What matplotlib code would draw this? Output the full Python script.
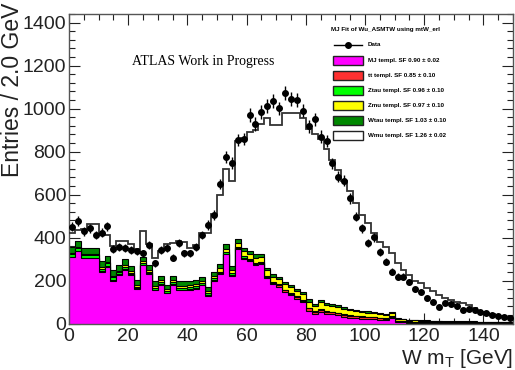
import numpy as np
import matplotlib.pyplot as plt
from matplotlib.patches import Rectangle
from matplotlib.lines import Line2D
from matplotlib.ticker import MultipleLocator

plt.rcParams['font.family'] = ['Liberation Sans', 'DejaVu Sans']
plt.rcParams['mathtext.fontset'] = 'custom'
plt.rcParams['mathtext.rm'] = 'Liberation Sans'

# 75 bins of 2 GeV from 0 to 150
edges = np.arange(0, 152, 2)

data = [450, 477, 430, 443, 412, 422, 453, 345, 357, 350,
        342, 335, 326, 365, 280, 342, 350, 306, 373, 326,
        326, 354, 412, 458, 505, 649, 776, 748, 853, 858,
        970, 928, 985, 1012, 1037, 1001, 1074, 1043, 1040, 990,
        918, 950, 869, 850, 745, 683, 664, 582, 497, 443,
        373, 401, 334, 288, 241, 218, 218, 194, 159, 148,
        117, 101, 78, 94, 91, 81, 63, 66, 63, 55,
        47, 40, 35, 29, 25]

# top of the full stack (Wmu on top)
total = [420, 435, 440, 465, 465, 415, 410, 360, 385, 385,
         370, 345, 430, 370, 305, 335, 370, 375, 385, 380,
         350, 365, 420, 420, 510, 598, 718, 664, 850, 862,
         890, 900, 930, 958, 922, 922, 980, 980, 978, 955,
         905, 880, 860, 810, 760, 715, 665, 615, 560, 505,
         466, 420, 380, 357, 327, 280, 249, 226, 200, 188,
         164, 150, 133, 117, 109, 100, 94, 86, 71, 55,
         47, 45, 35, 32, 30]

mj = [308, 335, 303, 303, 303, 240, 265, 200, 225, 250,
      225, 160, 270, 230, 155, 180, 140, 180, 155, 155,
      158, 162, 177, 130, 200, 230, 322, 222, 347, 302,
      290, 273, 275, 212, 182, 170, 146, 131, 115, 98,
      60, 45, 55, 45, 42, 38, 32, 27, 25, 23,
      21, 20, 17, 16, 25, 6, 5, 4, 3, 3,
      3, 2, 2, 2, 2, 2, 2, 2, 2, 1,
      1, 1, 1, 1, 1]

tt = [3] * 28 + [5, 5, 5, 5, 6, 6, 7, 7, 8, 8, 8, 9,
                 10, 9, 10, 10, 10, 10, 9, 9, 9, 8, 8, 8, 7, 7, 7,
                 6, 5, 5, 4, 4, 4, 4, 4, 3, 3, 3, 3, 3, 3, 2, 2, 2, 2, 2, 2]

ztau = [12] * 10 + [8] * 18 + [6, 6, 5, 5, 5, 5, 5, 5, 4, 4, 4, 4,
                               4, 3, 4, 3, 3, 3, 3, 3, 2, 2, 2, 2, 2, 2, 2] + [1] * 20

zmu = [6] * 10 + [10] * 15 + [15] * 4 + [22, 22, 23, 24, 24, 24, 25, 25, 25, 25, 25,
                                          28, 26, 30, 28, 28, 27, 25, 23, 22, 21, 20, 19, 17, 16, 17,
                                          10, 9, 6, 6, 5, 4, 4, 3, 3, 3, 3, 3, 3, 3, 3, 2, 2, 2, 2, 2]

wtau = [28] * 10 + [20] * 19 + [17, 16, 16, 15, 13, 12, 11, 11, 10, 10, 9,
                                10, 9, 9, 9, 9, 8, 7, 6, 6, 6, 6, 5, 5, 4, 4,
                                3, 3, 2, 2, 2, 2, 2, 2, 1, 1, 1, 1, 1, 1, 1, 1, 1, 1, 1, 1]

names = ["MJ templ. SF 0.90 \u00b1 0.02", "tt templ. SF 0.85 \u00b1 0.10",
         "Ztau templ. SF 0.96 \u00b1 0.10", "Zmu templ. SF 0.97 \u00b1 0.10",
         "Wtau templ. SF 1.03 \u00b1 0.10", "Wmu templ. SF 1.26 \u00b1 0.02"]
colors = ["#ff00ff", "#ff3030", "#00ff00", "#ffff00", "#008800", "white"]

W, H = 515, 370
fig = plt.figure(figsize=(W / 100, H / 100), dpi=100)
ax = fig.add_axes([69 / W, 1 - 323.5 / H, (513 - 69) / W, (323.5 - 14) / H])

# stack
layers = np.array([mj, tt, ztau, zmu, wtau], dtype=float)
tops = np.cumsum(layers, axis=0)
ax.stairs(total, edges, fill=True, color="white", zorder=1)
for top, c in reversed(list(zip(tops, colors[:5]))):
    ax.stairs(top, edges, baseline=0, fill=True, color=c, zorder=2)
    ax.stairs(top, edges, baseline=None, color="black", lw=0.8, zorder=2)
ax.stairs(total, edges, baseline=None, color="#333333", lw=1.3, zorder=3)

# data
centers = 0.5 * (edges[1:] + edges[:-1])
d = np.array(data, dtype=float)
ax.errorbar(centers, d, yerr=np.sqrt(d), fmt="o", color="black", ms=4,
            elinewidth=1, capsize=0, zorder=4)

ax.set_xlim(0, 150)
ax.set_ylim(0, 1440)
ax.xaxis.set_major_locator(MultipleLocator(20))
ax.xaxis.set_minor_locator(MultipleLocator(5))
ax.yaxis.set_major_locator(MultipleLocator(200))
ax.yaxis.set_minor_locator(MultipleLocator(40))
ax.tick_params(which="both", direction="in", top=True, right=True,
               labelsize=14, colors="#222222")
ax.tick_params(which="major", length=8, width=0.8)
ax.tick_params(which="minor", length=4, width=0.8)
ax.tick_params(axis="y", pad=2)
ax.tick_params(axis="x", pad=3)
for s in ax.spines.values():
    s.set_color("#555555")
    s.set_linewidth(1.0)

fig.text(513 / W, 1 - 359 / H, r"W m$_\mathrm{T}$ [GeV]", ha="right", va="center",
         fontsize=15, color="#222222")
fig.text(13 / W, 1 - 177 / H, "Entries / 2.0 GeV", rotation=90, ha="center",
         va="bottom", fontsize=16.5, color="#222222")
fig.text(132 / W, 1 - 61 / H, "ATLAS Work in Progress", family="Liberation Serif",
         fontsize=10, va="center")

# legend drawn by hand in pixel positions
def fx(x):
    return x / W


def fy(y):
    return 1 - y / H


fs = 4.5
fig.text(fx(331), fy(30), "MJ Fit of Wu_ASMTW using mtW_erl", fontsize=fs,
         weight="bold", va="center")
yd = 44.5
fig.add_artist(Line2D([fx(334), fx(362)], [fy(yd), fy(yd)], color="black", lw=1,
                      transform=fig.transFigure))
fig.add_artist(Line2D([fx(348)], [fy(yd)], marker="o", ms=4, color="black",
                      transform=fig.transFigure))
fig.text(fx(368), fy(yd), "Data", fontsize=fs, weight="bold", va="center")
for i, (n, c) in enumerate(zip(names, colors)):
    y = 60.5 + 15 * i
    fig.add_artist(Rectangle((fx(333), fy(y + 4.5)), 30 / W, 9 / H, facecolor=c,
                             edgecolor="#222222", lw=1, transform=fig.transFigure))
    fig.text(fx(368), fy(y), n, fontsize=fs, weight="bold", va="center")

fig.savefig("out.png", dpi=100)
